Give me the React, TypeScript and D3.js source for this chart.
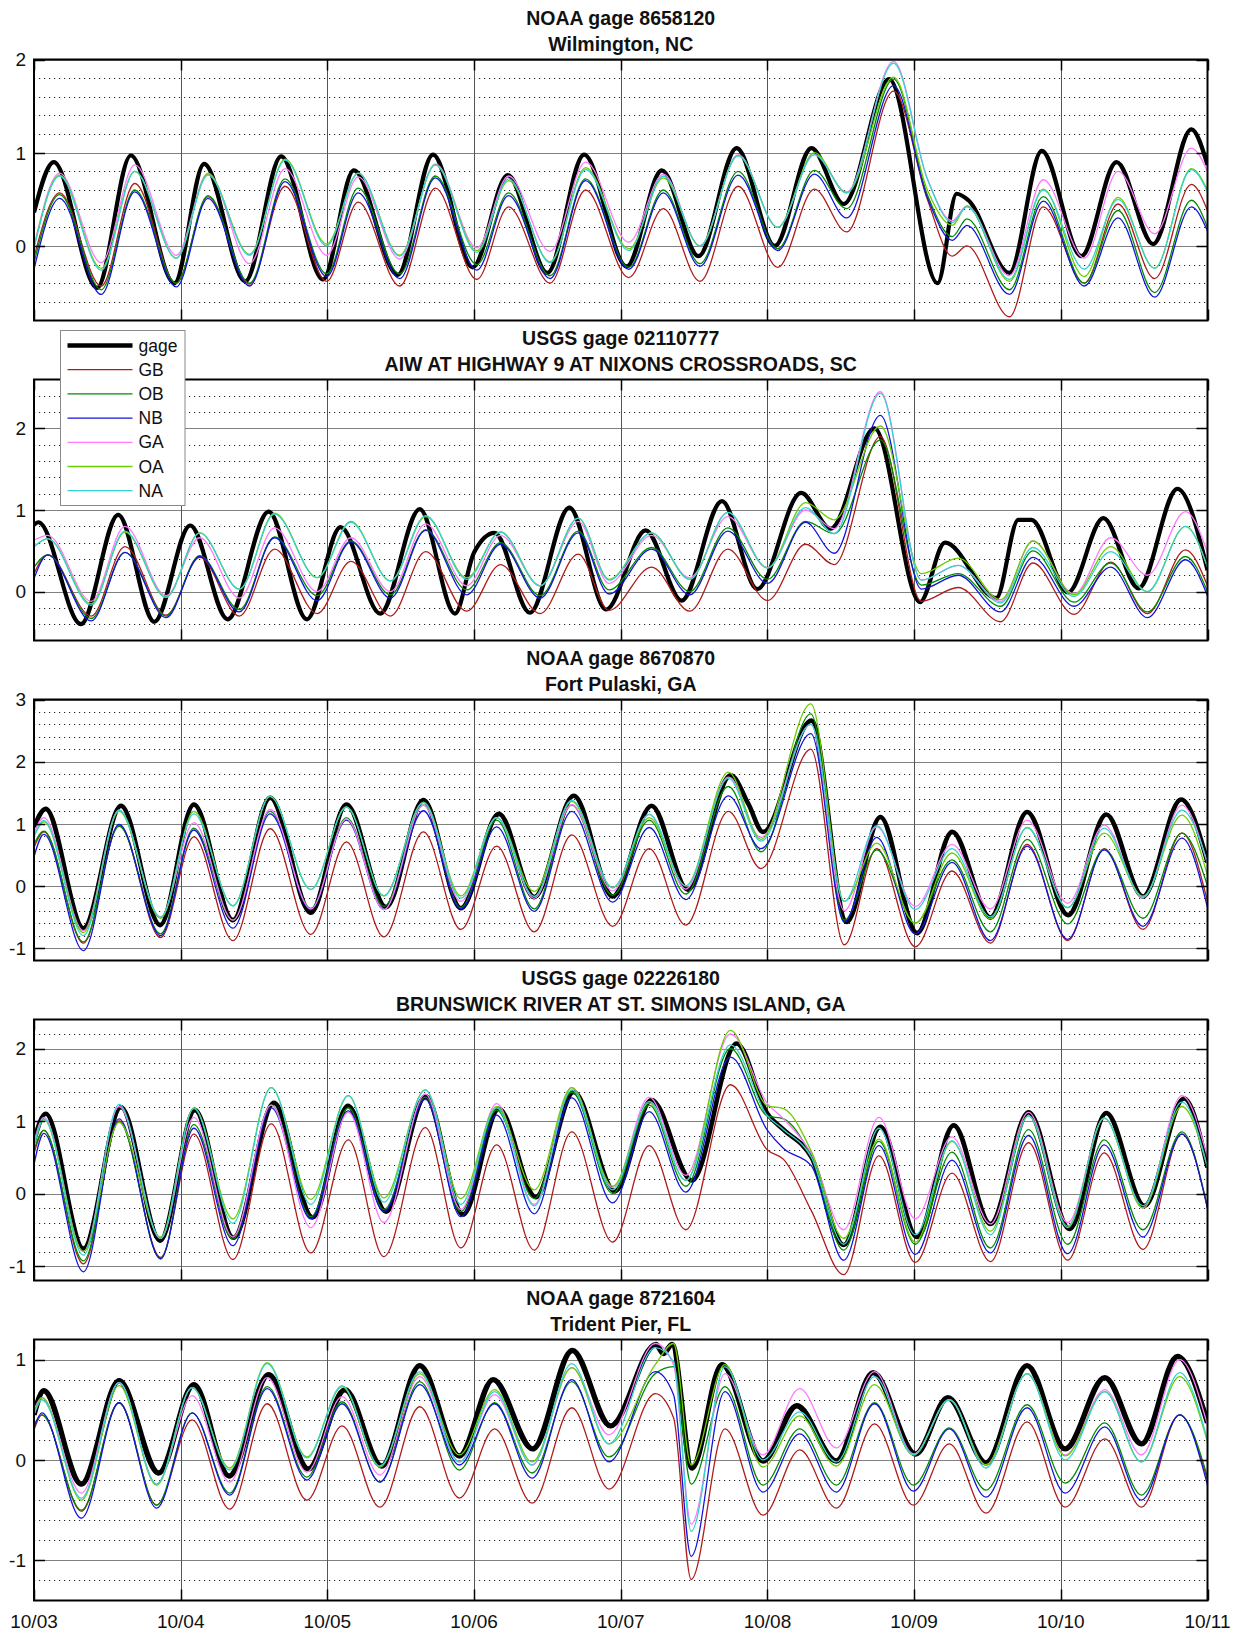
import React, { useEffect, useRef } from "react";
import * as d3 from "d3";

// ---- shared labels / styles ----
const dayLabels = ["10/03", "10/04", "10/05", "10/06", "10/07", "10/08", "10/09", "10/10", "10/11"];
const seriesNames = ["gage", "GB", "OB", "NB", "GA", "OA", "NA"];
const seriesColors = ["#000000", "#b01c1c", "#008c00", "#1414dc", "#ff78ff", "#6ccd00", "#34d2d2"];

// ---- panel 1: Wilmington ----
const p1Title = ["NOAA gage 8658120", "Wilmington, NC"];
const p1Domain = [-0.8, 2];
const p1GageT = [0, 0.135, 0.43, 0.66, 0.957, 1.16, 1.44, 1.685, 1.97, 2.18, 2.48, 2.72, 2.99, 3.23, 3.5, 3.75, 4.04, 4.28, 4.53, 4.79, 5.05, 5.3, 5.52, 5.83, 6.16, 6.29, 6.37, 6.65, 6.87, 7.14, 7.38, 7.63, 7.89, 8.0];
const p1Gage = [0.36, 0.9, -0.45, 0.97, -0.4, 0.88, -0.38, 0.96, -0.36, 0.81, -0.31, 0.98, -0.23, 0.76, -0.29, 0.98, -0.22, 0.81, -0.11, 1.05, 0.0, 1.05, 0.45, 1.79, -0.4, 0.56, 0.49, -0.29, 1.02, -0.11, 0.9, 0.02, 1.25, 0.87];
const p1ModelT = [0, 0.175, 0.458, 0.687, 0.97, 1.186, 1.469, 1.712, 1.995, 2.21, 2.493, 2.736, 3.019, 3.235, 3.518, 3.76, 4.055, 4.29, 4.54, 4.8, 5.07, 5.32, 5.54, 5.86, 6.09, 6.26, 6.36, 6.65, 6.88, 7.16, 7.39, 7.64, 7.89, 8.0];
const p1GB = [-0.12, 0.57, -0.43, 0.67, -0.4, 0.53, -0.41, 0.64, -0.38, 0.47, -0.43, 0.62, -0.36, 0.42, -0.4, 0.6, -0.34, 0.4, -0.38, 0.64, -0.23, 0.61, 0.15, 1.66, 0.5, -0.11, 0.0, -0.76, 0.42, -0.4, 0.45, -0.35, 0.66, 0.38];
const p1OB = [-0.18, 0.55, -0.47, 0.6, -0.4, 0.54, -0.4, 0.72, -0.3, 0.62, -0.3, 0.75, -0.2, 0.57, -0.32, 0.72, -0.23, 0.6, -0.19, 0.8, -0.03, 0.81, 0.4, 1.79, 0.55, 0.1, 0.29, -0.47, 0.53, -0.4, 0.38, -0.5, 0.49, 0.2];
const p1NB = [-0.25, 0.51, -0.52, 0.58, -0.44, 0.51, -0.43, 0.69, -0.33, 0.57, -0.35, 0.73, -0.26, 0.54, -0.35, 0.7, -0.25, 0.57, -0.22, 0.76, -0.05, 0.77, 0.3, 1.72, 0.52, 0.06, 0.22, -0.52, 0.48, -0.43, 0.3, -0.55, 0.42, 0.16];
const p1GA = [0.0, 0.78, -0.18, 0.87, -0.1, 0.78, -0.19, 0.83, -0.1, 0.74, -0.14, 0.88, -0.02, 0.75, -0.06, 0.9, 0.04, 0.77, 0.0, 0.98, 0.2, 0.98, 0.58, 1.98, 0.72, 0.27, 0.43, -0.32, 0.71, -0.13, 0.8, 0.13, 1.05, 0.8];
const p1OA = [-0.02, 0.76, -0.24, 0.8, -0.13, 0.77, -0.09, 0.93, 0.02, 0.78, -0.1, 0.87, -0.05, 0.7, -0.17, 0.84, -0.03, 0.73, 0.0, 0.97, 0.2, 1.0, 0.57, 1.81, 0.6, 0.22, 0.43, -0.38, 0.61, -0.33, 0.52, -0.24, 0.83, 0.6];
const p1NA = [-0.02, 0.75, -0.26, 0.8, -0.13, 0.76, -0.1, 0.92, 0.0, 0.78, -0.11, 0.87, -0.07, 0.72, -0.18, 0.82, -0.05, 0.75, 0.0, 0.97, 0.2, 0.98, 0.57, 1.96, 0.72, 0.25, 0.42, -0.36, 0.6, -0.25, 0.5, -0.24, 0.82, 0.58];

// ---- panel 2: Nixons Crossroads ----
const p2Title = ["USGS gage 02110777", "AIW AT HIGHWAY 9 AT NIXONS CROSSROADS, SC"];
const p2Domain = [-0.6, 2.6];
const p2GageT = [0, 0.03, 0.32, 0.574, 0.82, 1.065, 1.32, 1.6, 1.86, 2.09, 2.36, 2.63, 2.87, 3.0, 3.14, 3.38, 3.65, 3.9, 4.17, 4.415, 4.69, 4.93, 5.23, 5.43, 5.73, 6.04, 6.21, 6.56, 6.71, 6.8, 7.05, 7.29, 7.53, 7.795, 8.0];
const p2Gage = [0.82, 0.85, -0.4, 0.94, -0.37, 0.81, -0.34, 0.98, -0.34, 0.79, -0.27, 1.01, -0.27, 0.48, 0.72, -0.26, 1.03, -0.22, 0.75, -0.11, 1.11, 0.03, 1.21, 0.77, 2.0, -0.13, 0.6, -0.08, 0.88, 0.88, -0.01, 0.9, 0.04, 1.26, 0.26];
const p2ModelT = [0, 0.094, 0.39, 0.62, 0.9, 1.13, 1.4, 1.64, 1.93, 2.16, 2.43, 2.67, 2.95, 3.18, 3.45, 3.71, 3.92, 4.21, 4.47, 4.73, 5.0, 5.26, 5.455, 5.77, 6.05, 6.3, 6.59, 6.81, 7.09, 7.34, 7.59, 7.85, 8.0];
const p2GB = [0.22, 0.45, -0.3, 0.55, -0.29, 0.42, -0.3, 0.52, -0.27, 0.37, -0.3, 0.49, -0.24, 0.33, -0.27, 0.46, -0.23, 0.3, -0.24, 0.52, -0.11, 0.58, 0.33, 1.9, -0.12, 0.05, -0.37, 0.35, -0.28, 0.36, -0.27, 0.51, 0.07];
const p2OB = [0.3, 0.45, -0.33, 0.48, -0.3, 0.44, -0.22, 0.67, -0.05, 0.62, -0.04, 0.76, 0.02, 0.6, -0.05, 0.74, 0.02, 0.54, 0.0, 0.78, 0.15, 0.86, 0.71, 1.86, 0.08, 0.22, -0.18, 0.5, -0.13, 0.35, -0.25, 0.43, 0.0];
const p2NB = [0.16, 0.45, -0.36, 0.48, -0.32, 0.43, -0.25, 0.66, -0.11, 0.61, -0.08, 0.75, -0.04, 0.58, -0.08, 0.72, -0.03, 0.52, -0.04, 0.74, 0.1, 0.85, 0.47, 2.16, 0.03, 0.2, -0.25, 0.42, -0.18, 0.3, -0.32, 0.39, -0.05];
const p2GA = [0.63, 0.69, -0.12, 0.8, -0.05, 0.66, -0.08, 0.78, 0.0, 0.66, 0.0, 0.83, 0.07, 0.69, 0.07, 0.86, 0.1, 0.69, 0.17, 0.92, 0.29, 1.0, 0.77, 2.45, 0.14, 0.32, -0.12, 0.62, -0.03, 0.66, 0.2, 0.98, 0.48];
const p2OA = [0.55, 0.65, -0.15, 0.73, -0.07, 0.72, 0.03, 0.96, 0.17, 0.86, 0.13, 0.92, 0.17, 0.73, 0.07, 0.9, 0.15, 0.72, 0.15, 0.97, 0.29, 1.09, 0.88, 2.03, 0.22, 0.41, -0.1, 0.62, -0.04, 0.55, 0.0, 0.8, 0.3];
const p2NA = [0.55, 0.65, -0.17, 0.74, -0.07, 0.72, 0.03, 0.95, 0.17, 0.85, 0.13, 0.93, 0.15, 0.73, 0.07, 0.9, 0.14, 0.72, 0.15, 0.97, 0.29, 1.03, 0.71, 2.43, 0.14, 0.32, -0.14, 0.54, -0.06, 0.49, 0.0, 0.8, 0.3];

// ---- panel 3: Fort Pulaski ----
const p3Title = ["NOAA gage 8670870", "Fort Pulaski, GA"];
const p3Domain = [-1.2, 3];
const p3GageT = [0, 0.08, 0.337, 0.593, 0.86, 1.09, 1.356, 1.61, 1.887, 2.13, 2.4, 2.655, 2.91, 3.17, 3.41, 3.68, 3.945, 4.21, 4.457, 4.75, 4.87, 4.97, 5.3, 5.54, 5.77, 6.02, 6.26, 6.52, 6.77, 7.05, 7.31, 7.56, 7.82, 8.0];
const p3Gage = [0.95, 1.24, -0.68, 1.29, -0.63, 1.31, -0.55, 1.42, -0.43, 1.31, -0.34, 1.38, -0.36, 1.16, -0.18, 1.45, -0.17, 1.29, -0.06, 1.78, 1.32, 0.87, 2.66, -0.58, 1.11, -0.76, 0.87, -0.51, 1.19, -0.47, 1.15, -0.17, 1.39, 0.38];
const p3ModelT = [0, 0.067, 0.337, 0.58, 0.863, 1.09, 1.356, 1.61, 1.887, 2.13, 2.385, 2.655, 2.91, 3.154, 3.41, 3.666, 3.945, 4.194, 4.443, 4.734, 4.956, 5.296, 5.524, 5.745, 6.008, 6.258, 6.52, 6.77, 7.047, 7.296, 7.56, 7.825, 8.0];
const p3GB = [0.62, 0.87, -0.92, 0.98, -0.83, 0.79, -0.88, 0.92, -0.78, 0.71, -0.82, 0.87, -0.7, 0.64, -0.74, 0.82, -0.65, 0.6, -0.63, 1.2, 0.28, 2.2, -0.95, 0.6, -0.98, 0.24, -0.92, 0.67, -0.88, 0.6, -0.7, 0.85, -0.25];
const p3OB = [0.67, 0.88, -0.9, 0.96, -0.77, 0.93, -0.55, 1.2, -0.36, 1.1, -0.33, 1.3, -0.35, 1.06, -0.37, 1.3, -0.15, 1.06, -0.13, 1.6, 0.55, 2.77, -0.55, 0.58, -0.6, 0.42, -0.74, 0.75, -0.61, 0.59, -0.52, 0.85, 0.0];
const p3NB = [0.47, 0.83, -1.04, 0.99, -0.8, 0.9, -0.68, 1.16, -0.38, 1.06, -0.38, 1.21, -0.37, 0.95, -0.41, 1.2, -0.26, 0.94, -0.22, 1.45, 0.6, 2.45, -0.58, 0.78, -0.77, 0.38, -0.88, 0.64, -0.86, 0.58, -0.65, 0.77, -0.35];
const p3GA = [0.85, 1.1, -0.72, 1.22, -0.5, 1.02, -0.55, 1.23, -0.37, 1.08, -0.38, 1.3, -0.25, 1.1, -0.2, 1.31, -0.08, 1.15, -0.05, 1.75, 0.78, 2.6, -0.4, 0.95, -0.33, 0.67, -0.37, 1.06, -0.28, 0.98, -0.19, 1.3, 0.35];
const p3OA = [0.8, 1.03, -0.75, 1.2, -0.52, 1.2, -0.32, 1.44, -0.06, 1.27, -0.16, 1.35, -0.16, 1.1, -0.09, 1.36, -0.03, 1.1, 0.0, 1.83, 0.75, 2.93, -0.25, 0.69, -0.6, 0.53, -0.53, 0.94, -0.35, 0.85, -0.17, 1.14, 0.17];
const p3NA = [0.79, 1.05, -0.8, 1.22, -0.5, 1.16, -0.32, 1.44, -0.06, 1.27, -0.16, 1.34, -0.2, 1.1, -0.17, 1.38, -0.03, 1.15, 0.0, 1.73, 0.72, 2.6, -0.25, 0.97, -0.38, 0.6, -0.5, 0.94, -0.35, 0.93, -0.17, 1.22, 0.38];

// ---- panel 4: Brunswick River ----
const p4Title = ["USGS gage 02226180", "BRUNSWICK RIVER AT ST. SIMONS ISLAND, GA"];
const p4Domain = [-1.2, 2.4];
const p4GageT = [0, 0.08, 0.337, 0.593, 0.86, 1.097, 1.36, 1.636, 1.9, 2.14, 2.4, 2.67, 2.925, 3.17, 3.42, 3.68, 3.96, 4.21, 4.485, 4.79, 5.0, 5.11, 5.3, 5.52, 5.77, 6.02, 6.27, 6.52, 6.78, 7.06, 7.31, 7.57, 7.84, 8.0];
const p4Gage = [0.73, 1.1, -0.76, 1.19, -0.65, 1.15, -0.61, 1.25, -0.33, 1.21, -0.25, 1.34, -0.29, 1.17, -0.05, 1.4, 0.03, 1.29, 0.18, 2.07, 1.1, 0.88, 0.5, -0.71, 0.92, -0.6, 0.94, -0.42, 1.12, -0.49, 1.11, -0.17, 1.31, 0.36];
const p4ModelT = [0, 0.067, 0.337, 0.58, 0.863, 1.09, 1.356, 1.617, 1.887, 2.143, 2.385, 2.668, 2.91, 3.154, 3.41, 3.666, 3.945, 4.194, 4.443, 4.748, 5.0, 5.11, 5.3, 5.52, 5.76, 6.008, 6.258, 6.52, 6.78, 7.047, 7.296, 7.56, 7.825, 8.0];
const p4GB = [0.55, 0.87, -0.97, 1.0, -0.88, 0.82, -0.91, 0.96, -0.82, 0.74, -0.87, 0.91, -0.75, 0.67, -0.78, 0.85, -0.67, 0.66, -0.5, 1.5, 0.6, 0.47, -0.24, -1.12, 0.52, -0.95, 0.28, -0.94, 0.7, -0.92, 0.56, -0.77, 0.82, -0.2];
const p4OB = [0.6, 0.87, -0.93, 0.99, -0.9, 0.95, -0.63, 1.22, -0.32, 1.18, -0.22, 1.33, -0.25, 1.15, -0.07, 1.4, 0.0, 1.22, 0.1, 2.0, 1.07, 1.03, 0.5, -0.78, 0.72, -0.7, 0.57, -0.75, 0.88, -0.7, 0.74, -0.5, 0.85, -0.2];
const p4NB = [0.4, 0.83, -1.08, 1.03, -0.9, 0.9, -0.72, 1.18, -0.35, 1.14, -0.25, 1.3, -0.32, 1.08, -0.28, 1.32, -0.13, 1.13, 0.02, 1.88, 0.87, 0.62, 0.38, -0.92, 0.66, -0.84, 0.46, -0.82, 0.8, -0.83, 0.67, -0.6, 0.82, -0.2];
const p4GA = [0.7, 1.05, -0.8, 1.2, -0.62, 1.05, -0.6, 1.22, -0.47, 1.12, -0.4, 1.37, -0.22, 1.24, -0.15, 1.46, 0.08, 1.33, 0.25, 2.2, 1.24, 1.03, 0.55, -0.5, 1.05, -0.35, 0.78, -0.42, 1.12, -0.4, 1.04, -0.2, 1.35, 0.5];
const p4OA = [0.65, 1.02, -0.8, 0.98, -0.6, 1.18, -0.35, 1.46, -0.08, 1.35, -0.06, 1.43, -0.07, 1.2, 0.05, 1.46, 0.1, 1.25, 0.18, 2.25, 1.21, 1.17, 0.58, -0.62, 0.75, -0.67, 0.72, -0.52, 1.07, -0.45, 1.04, -0.2, 1.2, 0.36];
const p4NA = [0.65, 1.03, -0.85, 1.23, -0.62, 1.17, -0.41, 1.46, -0.15, 1.35, -0.12, 1.43, -0.15, 1.18, -0.17, 1.43, 0.05, 1.27, 0.18, 2.05, 1.07, 0.88, 0.5, -0.7, 0.9, -0.57, 0.73, -0.57, 1.07, -0.47, 1.04, -0.17, 1.26, 0.36];

// ---- panel 5: Trident Pier ----
const p5Title = ["NOAA gage 8721604", "Trident Pier, FL"];
const p5Domain = [-1.4, 1.2];
const p5GageT = [0, 0.067, 0.323, 0.58, 0.85, 1.09, 1.33, 1.6, 1.87, 2.12, 2.37, 2.63, 2.9, 3.13, 3.4, 3.67, 3.93, 4.24, 4.29, 4.35, 4.485, 4.69, 4.97, 5.2, 5.47, 5.72, 6.01, 6.23, 6.49, 6.77, 7.03, 7.3, 7.55, 7.795, 8.0];
const p5Gage = [0.45, 0.69, -0.24, 0.79, -0.13, 0.75, -0.16, 0.85, -0.09, 0.7, -0.06, 0.94, 0.04, 0.8, 0.11, 1.09, 0.34, 1.15, 1.06, 1.15, -0.08, 0.95, -0.01, 0.54, -0.01, 0.87, 0.06, 0.62, -0.03, 0.94, 0.11, 0.82, 0.16, 1.03, 0.37];
const p5ModelT = [0, 0.054, 0.323, 0.58, 0.836, 1.078, 1.334, 1.59, 1.86, 2.1, 2.358, 2.63, 2.9, 3.14, 3.396, 3.666, 3.92, 4.235, 4.36, 4.48, 4.71, 4.97, 5.22, 5.47, 5.73, 5.995, 6.24, 6.49, 6.77, 7.03, 7.3, 7.55, 7.81, 8.0];
const p5GB = [0.3, 0.45, -0.51, 0.57, -0.45, 0.4, -0.49, 0.56, -0.4, 0.34, -0.47, 0.53, -0.38, 0.31, -0.43, 0.52, -0.29, 0.66, 0.42, -1.19, 0.31, -0.55, 0.1, -0.48, 0.36, -0.45, 0.16, -0.53, 0.38, -0.47, 0.21, -0.47, 0.45, -0.2];
const p5OB = [0.35, 0.45, -0.5, 0.57, -0.45, 0.47, -0.33, 0.73, -0.17, 0.58, -0.22, 0.78, -0.1, 0.57, -0.13, 0.78, 0.03, 0.86, 0.93, -0.24, 0.73, -0.25, 0.31, -0.25, 0.57, -0.25, 0.32, -0.3, 0.55, -0.23, 0.37, -0.35, 0.45, -0.17];
const p5NB = [0.32, 0.47, -0.58, 0.57, -0.48, 0.47, -0.35, 0.71, -0.2, 0.56, -0.22, 0.75, -0.05, 0.56, -0.18, 0.8, -0.02, 0.88, 0.65, -0.96, 0.68, -0.32, 0.26, -0.32, 0.56, -0.31, 0.31, -0.37, 0.52, -0.33, 0.33, -0.4, 0.45, -0.25];
const p5GA = [0.5, 0.62, -0.33, 0.77, -0.24, 0.64, -0.22, 0.82, -0.12, 0.63, -0.15, 0.83, -0.02, 0.65, -0.05, 0.92, 0.25, 1.16, 0.95, -0.64, 0.86, 0.05, 0.71, 0.12, 0.88, 0.06, 0.6, -0.05, 0.86, 0.05, 0.7, 0.05, 1.0, 0.35];
const p5OA = [0.45, 0.62, -0.4, 0.74, -0.25, 0.72, -0.08, 0.97, 0.03, 0.73, -0.07, 0.86, 0.05, 0.7, -0.02, 0.92, 0.16, 0.95, 1.16, -0.05, 0.95, -0.07, 0.44, -0.06, 0.75, 0.05, 0.6, -0.05, 0.86, 0.04, 0.68, -0.02, 0.83, 0.18];
const p5NA = [0.45, 0.6, -0.38, 0.77, -0.24, 0.72, -0.1, 0.96, 0.02, 0.74, -0.06, 0.88, -0.02, 0.68, -0.05, 0.96, 0.16, 1.12, 0.98, -0.71, 0.93, 0.0, 0.48, -0.02, 0.83, 0.05, 0.6, -0.08, 0.86, 0.0, 0.68, -0.02, 0.87, 0.2];

const panels = [
  { title: p1Title, domain: p1Domain, gageT: p1GageT, gage: p1Gage, modelT: p1ModelT, models: [p1GB, p1OB, p1NB, p1GA, p1OA, p1NA] },
  { title: p2Title, domain: p2Domain, gageT: p2GageT, gage: p2Gage, modelT: p2ModelT, models: [p2GB, p2OB, p2NB, p2GA, p2OA, p2NA] },
  { title: p3Title, domain: p3Domain, gageT: p3GageT, gage: p3Gage, modelT: p3ModelT, models: [p3GB, p3OB, p3NB, p3GA, p3OA, p3NA] },
  { title: p4Title, domain: p4Domain, gageT: p4GageT, gage: p4Gage, modelT: p4ModelT, models: [p4GB, p4OB, p4NB, p4GA, p4OA, p4NA] },
  { title: p5Title, domain: p5Domain, gageT: p5GageT, gage: p5Gage, modelT: p5ModelT, models: [p5GB, p5OB, p5NB, p5GA, p5OA, p5NA] },
];
// gage line weight per panel (the lower gages are noisier, so they read heavier)
const gageWidth = [4.2, 4.2, 4.6, 4.6, 5.4];

const width = 1237, height = 1633;
const plotLeft = 34, plotRight = 1207.5;
const panelTop = 59.5, panelStep = 320, panelH = 261;
const tickLen = 11;
const font = "'Liberation Sans', Arial, Helvetica, sans-serif";

export default function App() {
  const ref = useRef<SVGSVGElement | null>(null);

  useEffect(() => {
    const svg = d3.select(ref.current);
    svg.selectAll("*").remove();

    const x = d3.scaleLinear().domain([0, 8]).range([plotLeft, plotRight]);
    const days = d3.range(0, 9);

    panels.forEach((p, i) => {
      const top = panelTop + i * panelStep;
      const bottom = top + panelH;
      const y = d3.scaleLinear().domain(p.domain).range([bottom, top]);
      const g = svg.append("g");

      // dotted minor grid every 0.2
      const lo = Math.round(p.domain[0] * 5), hi = Math.round(p.domain[1] * 5);
      const minor = d3.range(lo + 1, hi).filter(k => k % 5 !== 0).map(k => k / 5);
      g.selectAll(".minor").data(minor).enter().append("line")
        .attr("x1", x(0)).attr("x2", x(8))
        .attr("y1", d => Math.round(y(d)) + 0.5).attr("y2", d => Math.round(y(d)) + 0.5)
        .attr("stroke", "#222").attr("stroke-width", 1).attr("stroke-dasharray", "1.2,3.8");

      // solid major grid
      const major = d3.range(Math.ceil(p.domain[0] - 1e-9), Math.floor(p.domain[1] + 1e-9) + 1);
      g.selectAll(".major").data(major).enter().append("line")
        .attr("x1", x(0)).attr("x2", x(8))
        .attr("y1", d => Math.round(y(d)) + 0.5).attr("y2", d => Math.round(y(d)) + 0.5)
        .attr("stroke", "#808080").attr("stroke-width", 1);
      g.selectAll(".vgrid").data(days.slice(1, 8)).enter().append("line")
        .attr("x1", d => Math.round(x(d)) + 0.5).attr("x2", d => Math.round(x(d)) + 0.5)
        .attr("y1", top).attr("y2", bottom)
        .attr("stroke", "#555").attr("stroke-width", 1);

      // data lines, clipped to the axes box
      const clipId = "clip" + i;
      svg.append("clipPath").attr("id", clipId).append("rect")
        .attr("x", x(0)).attr("y", top).attr("width", x(8) - x(0)).attr("height", panelH);
      const lines = g.append("g").attr("clip-path", `url(#${clipId})`);
      const line = d3.line<[number, number]>()
        .x(d => x(d[0])).y(d => y(d[1]))
        .curve(d3.curveMonotoneX);

      lines.append("path")
        .attr("d", line(p.gageT.map((t, k) => [t, p.gage[k]] as [number, number])))
        .attr("fill", "none").attr("stroke", seriesColors[0])
        .attr("stroke-width", gageWidth[i]).attr("stroke-linejoin", "round");
      p.models.forEach((vals, s) => {
        lines.append("path")
          .attr("d", line(p.modelT.map((t, k) => [t, vals[k]] as [number, number])))
          .attr("fill", "none").attr("stroke", seriesColors[s + 1])
          .attr("stroke-width", 1.3);
      });

      // ticks (inward, all four sides)
      major.forEach(v => {
        const yy = Math.round(y(v)) + 0.5;
        g.append("line").attr("x1", x(0)).attr("x2", x(0) + tickLen).attr("y1", yy).attr("y2", yy)
          .attr("stroke", "#000").attr("stroke-width", 1.5);
        g.append("line").attr("x1", x(8)).attr("x2", x(8) - tickLen).attr("y1", yy).attr("y2", yy)
          .attr("stroke", "#000").attr("stroke-width", 1.5);
        g.append("text").attr("x", 26).attr("y", y(v) + 6.8)
          .attr("text-anchor", "end").attr("font-family", font).attr("font-size", 19)
          .attr("fill", "#111").text(String(v));
      });
      days.forEach(d => {
        const xx = Math.round(x(d)) + 0.5;
        g.append("line").attr("x1", xx).attr("x2", xx).attr("y1", top).attr("y2", top + tickLen)
          .attr("stroke", "#000").attr("stroke-width", 1.5);
        g.append("line").attr("x1", xx).attr("x2", xx).attr("y1", bottom).attr("y2", bottom - tickLen)
          .attr("stroke", "#000").attr("stroke-width", 1.5);
      });

      // axes box
      g.append("rect").attr("x", x(0)).attr("y", top).attr("width", x(8) - x(0)).attr("height", panelH)
        .attr("fill", "none").attr("stroke", "#000").attr("stroke-width", 2);

      // two-line title
      p.title.forEach((t, k) => {
        g.append("text").attr("x", (x(0) + x(8)) / 2).attr("y", top - 35 + k * 26)
          .attr("text-anchor", "middle").attr("font-family", font).attr("font-weight", "bold")
          .attr("font-size", 19.5).attr("fill", "#111").text(t);
      });

      // day labels on the bottom panel only
      if (i === panels.length - 1) {
        g.selectAll(".xlab").data(days).enter().append("text")
          .attr("x", d => x(d)).attr("y", bottom + 27)
          .attr("text-anchor", "middle").attr("font-family", font).attr("font-size", 19)
          .attr("fill", "#111").text(d => dayLabels[d]);
      }
    });

    // legend sits on the upper-left of the second panel
    const lg = svg.append("g").attr("transform", "translate(60.5,330.5)");
    lg.append("rect").attr("width", 124.5).attr("height", 175)
      .attr("fill", "#fff").attr("stroke", "#8a8a8a").attr("stroke-width", 1);
    seriesNames.forEach((name, k) => {
      const cy = 15 + k * 24.2;
      lg.append("line").attr("x1", 7).attr("x2", 72).attr("y1", cy).attr("y2", cy)
        .attr("stroke", seriesColors[k]).attr("stroke-width", k === 0 ? 4.5 : 1.3);
      lg.append("text").attr("x", 78).attr("y", cy + 6).attr("font-family", font)
        .attr("font-size", 17.5).attr("fill", "#111").text(name);
    });
  }, []);

  return (
    <svg ref={ref} width={width} height={height}
      style={{ position: "absolute", left: 0, top: 0, background: "#fff" }} />
  );
}
